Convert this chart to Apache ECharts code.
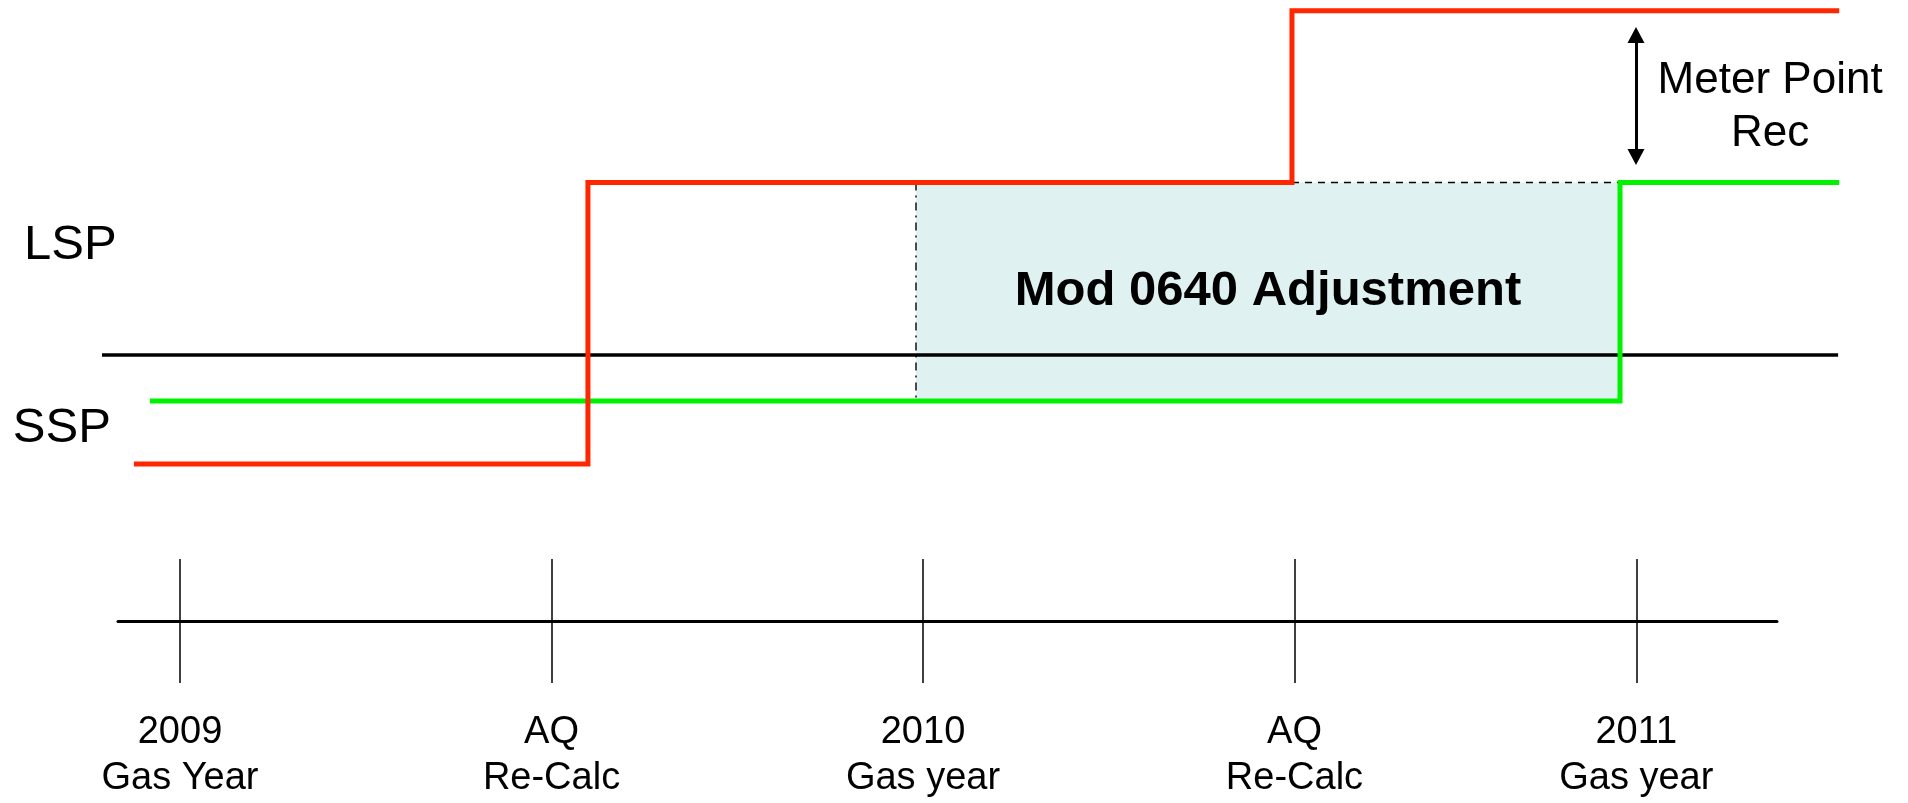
<!DOCTYPE html>
<html>
<head>
<meta charset="utf-8">
<title>Mod 0640 Adjustment</title>
<script src="https://cdn.jsdelivr.net/npm/echarts@6/dist/echarts.min.js"></script>
<style>
  html, body { margin: 0; padding: 0; background: #fff; }
  #chart { width: 1908px; height: 803px; }
</style>
</head>
<body>
<div id="chart"></div>
<script>
// x 单位：时间轴刻度（2009 Gas Year = 0，每个刻度 = 1）
// y 单位：相对中间黑线（0）的高度
const tickValues = [0, 1, 2, 3, 3.92];
const tickLabels = ['2009\nGas Year', 'AQ\nRe-Calc', '2010\nGas year', 'AQ\nRe-Calc', '2011\nGas year'];

// LSP / SSP 阶梯线（step: 'end'）
const redX = [-0.124, 1.098, 2.993, 4.466];
const redY = [-1.09, 1.725, 3.443, 3.443];
const greenX = [-0.081, 3.876, 4.466];
const greenY = [-0.46, 1.725, 1.725];

// 中间黑线
const baseX = [-0.21, 4.463];
const baseY = [0, 0];

// Mod 0640 调整区域
const adjustX = [1.981, 3.876];
const adjustY = [-0.46, 1.725];
const adjustLabel = 'Mod 0640 Adjustment';

// 虚线（红线上台阶到绿线上台阶之间）
const dashX = [2.993, 3.876];
const dashY = [1.725, 1.725];

// Meter Point Rec 双箭头
const arrowX = 3.919;
const arrowY = [3.20, 1.98];

// 文字标注
const noteNames = ['LSP', 'SSP', 'Meter Point\nRec'];
const noteX = [-0.42, -0.45, 4.28];
const noteY = [1.095, -0.735, 2.48];

const FONT = 'Liberation Sans, Arial, Helvetica, sans-serif';

const chart = echarts.init(document.getElementById('chart'), null, { renderer: 'canvas' });

const zip = (xs, ys) => xs.map((x, i) => [x, ys[i]]);

const option = {
  animation: false,
  backgroundColor: '#fff',
  grid: [
    { left: 0, right: 0, top: 0, bottom: 0, outerBoundsMode: 'none' },
    // 时间轴：网格上半部分由 splitLine 画出刻度的上半段
    { left: 118, width: 1659, top: 559, height: 62, outerBoundsMode: 'none' }
  ],
  xAxis: [
    { gridIndex: 0, type: 'value', min: -0.48452, max: 4.65114, show: false },
    {
      gridIndex: 1, type: 'value', min: -0.1669, max: 4.2988, position: 'bottom',
      axisLine: { show: true, onZero: false, lineStyle: { color: '#000', width: 3 } },
      axisTick: { show: true, inside: false, length: 62, customValues: tickValues, lineStyle: { color: '#000', width: 1.5 } },
      splitLine: { show: true, lineStyle: { color: '#000', width: 1.5 } },
      axisLabel: {
        show: true, customValues: tickValues, margin: 89,
        fontSize: 38, lineHeight: 46, color: '#000', fontFamily: FONT,
        formatter: (v) => {
          const i = tickValues.findIndex(t => Math.abs(t - v) < 1e-6);
          return i >= 0 ? tickLabels[i] : '';
        }
      }
    }
  ],
  yAxis: [
    { gridIndex: 0, type: 'value', min: -4.48, max: 3.55, show: false },
    { gridIndex: 1, type: 'value', min: 0, max: 1, show: false }
  ],
  series: [
    {
      // 调整区域（浅青色）
      type: 'line', xAxisIndex: 0, yAxisIndex: 0, z: 1,
      data: [], symbol: 'none', silent: true,
      markArea: {
        silent: true,
        itemStyle: { color: '#E0F1F1' },
        label: {
          show: true, position: 'inside', color: '#000',
          fontSize: 49, fontWeight: 'bold', fontFamily: FONT
        },
        data: [[
          { name: adjustLabel, coord: [adjustX[0], adjustY[1]] },
          { coord: [adjustX[1], adjustY[0]] }
        ]]
      }
    },
    {
      // 中间黑线
      type: 'line', xAxisIndex: 0, yAxisIndex: 0, z: 3,
      data: zip(baseX, baseY), symbol: 'none', silent: true,
      lineStyle: { color: '#000', width: 3.3 }
    },
    {
      // 点划线（2010 Gas year 处）
      type: 'line', xAxisIndex: 0, yAxisIndex: 0, z: 3,
      data: [[adjustX[0], adjustY[1]], [adjustX[0], adjustY[0]]], symbol: 'none', silent: true,
      lineStyle: { color: '#000', width: 1.4, type: [8, 5, 2, 5] }
    },
    {
      // 虚线
      type: 'line', xAxisIndex: 0, yAxisIndex: 0, z: 3,
      data: zip(dashX, dashY), symbol: 'none', silent: true,
      lineStyle: { color: '#000', width: 1.5, type: [7, 6] }
    },
    {
      name: 'SSP', type: 'line', xAxisIndex: 0, yAxisIndex: 0, z: 4,
      step: 'end', data: zip(greenX, greenY), symbol: 'none', silent: true,
      lineStyle: { color: '#00F200', width: 5, join: 'miter', cap: 'butt' }
    },
    {
      name: 'LSP', type: 'line', xAxisIndex: 0, yAxisIndex: 0, z: 5,
      step: 'end', data: zip(redX, redY), symbol: 'none', silent: true,
      lineStyle: { color: '#FF2600', width: 5, join: 'miter', cap: 'butt' }
    },
    {
      // 双箭头 + 文字标注
      type: 'scatter', xAxisIndex: 0, yAxisIndex: 0, z: 6,
      symbolSize: 0, silent: true,
      itemStyle: { opacity: 1 },
      data: noteNames.map((n, i) => ({
        name: n,
        value: [noteX[i], noteY[i]],
        label: {
          align: i < 2 ? 'left' : 'center',
          fontSize: i < 2 ? 49 : 44,
          lineHeight: i < 2 ? 56 : 53,
          color: '#000'
        }
      })),
      label: {
        show: true, position: 'inside', formatter: '{b}', color: '#000',
        fontFamily: FONT, textBorderWidth: 0, opacity: 1
      },
      labelLayout: { hideOverlap: false },
      markLine: {
        silent: true,
        symbol: ['triangle', 'triangle'],
        symbolSize: [17, 16],
        label: { show: false },
        lineStyle: { color: '#000', width: 3, type: 'solid', opacity: 1 },
        data: [[{ coord: [arrowX, arrowY[0]] }, { coord: [arrowX, arrowY[1]] }]]
      }
    }
  ]
};

chart.setOption(option);
</script>
</body>
</html>
